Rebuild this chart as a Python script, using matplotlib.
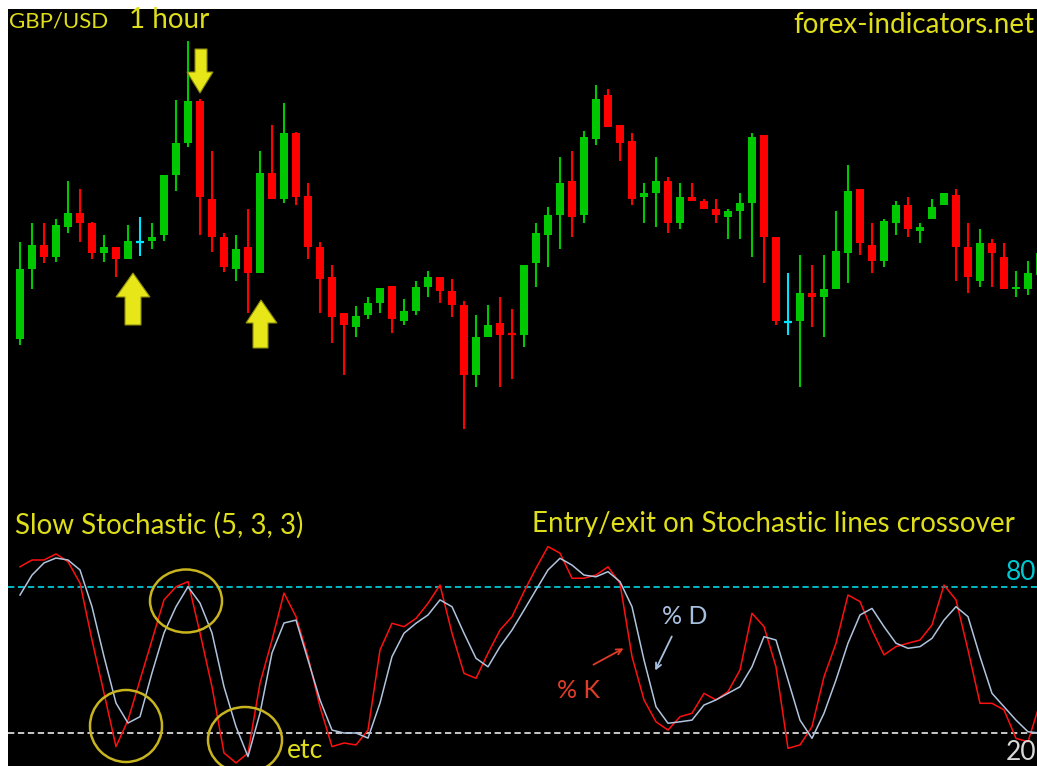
import matplotlib
matplotlib.use('Agg')
import matplotlib.pyplot as plt
from matplotlib.patches import Ellipse, Polygon
import numpy as np

# GBP/USD 1 hour candles (open, high, low, close)
opens = [1.5111, 1.5181, 1.5205, 1.5193, 1.5223, 1.5237, 1.5227, 1.5197, 1.5203, 1.5191,
         1.5208, 1.5209, 1.5215, 1.5275, 1.5307, 1.5349, 1.5251, 1.5213, 1.5181, 1.5203,
         1.5177, 1.5277, 1.5251, 1.5317, 1.5254, 1.5203, 1.5173, 1.5137, 1.5123, 1.5135,
         1.5147, 1.5164, 1.5129, 1.5139, 1.5163, 1.5173, 1.5159, 1.5145, 1.5075, 1.5113,
         1.5127, 1.5116, 1.5115, 1.5187, 1.5215, 1.5235, 1.5269, 1.5235, 1.5311, 1.5355,
         1.5325, 1.5309, 1.5253, 1.5257, 1.5269, 1.5227, 1.5253, 1.5249, 1.5241, 1.5233,
         1.5239, 1.5247, 1.5315, 1.5213, 1.5128, 1.5129, 1.5157, 1.5153, 1.5161, 1.5197,
         1.5261, 1.5205, 1.5189, 1.5227, 1.5245, 1.5219, 1.5231, 1.5245, 1.5255, 1.5203,
         1.5169, 1.5207, 1.5193, 1.5161, 1.5161, 1.5175]
highs = [1.5208, 1.5227, 1.5227, 1.5231, 1.5269, 1.5261, 1.5228, 1.5215, 1.5203, 1.5225,
         1.5233, 1.5227, 1.5275, 1.5350, 1.5409, 1.5351, 1.5299, 1.5217, 1.5215, 1.5241,
         1.5299, 1.5325, 1.5347, 1.5318, 1.5267, 1.5208, 1.5185, 1.5137, 1.5144, 1.5153,
         1.5162, 1.5164, 1.5151, 1.5169, 1.5179, 1.5173, 1.5171, 1.5149, 1.5135, 1.5145,
         1.5153, 1.5141, 1.5185, 1.5227, 1.5243, 1.5293, 1.5299, 1.5319, 1.5365, 1.5361,
         1.5325, 1.5317, 1.5267, 1.5293, 1.5273, 1.5267, 1.5267, 1.5251, 1.5251, 1.5241,
         1.5257, 1.5317, 1.5315, 1.5213, 1.5177, 1.5195, 1.5185, 1.5195, 1.5239, 1.5285,
         1.5261, 1.5227, 1.5231, 1.5249, 1.5253, 1.5227, 1.5251, 1.5257, 1.5261, 1.5227,
         1.5221, 1.5211, 1.5207, 1.5179, 1.5189, 1.5205]
lows = [1.5105, 1.5161, 1.5187, 1.5188, 1.5217, 1.5208, 1.5191, 1.5188, 1.5173, 1.5191,
        1.5194, 1.5201, 1.5209, 1.5259, 1.5303, 1.5215, 1.5198, 1.5178, 1.5169, 1.5137,
        1.5177, 1.5251, 1.5247, 1.5245, 1.5191, 1.5137, 1.5107, 1.5075, 1.5113, 1.5131,
        1.5137, 1.5117, 1.5125, 1.5135, 1.5153, 1.5147, 1.5133, 1.5021, 1.5063, 1.5113,
        1.5063, 1.5071, 1.5103, 1.5163, 1.5183, 1.5201, 1.5213, 1.5227, 1.5305, 1.5323,
        1.5289, 1.5245, 1.5227, 1.5223, 1.5217, 1.5221, 1.5249, 1.5241, 1.5227, 1.5211,
        1.5211, 1.5193, 1.5167, 1.5125, 1.5115, 1.5063, 1.5123, 1.5113, 1.5161, 1.5167,
        1.5195, 1.5177, 1.5183, 1.5215, 1.5213, 1.5207, 1.5231, 1.5245, 1.5169, 1.5157,
        1.5163, 1.5163, 1.5161, 1.5153, 1.5155, 1.5169]
closes = [1.5181, 1.5205, 1.5193, 1.5225, 1.5237, 1.5227, 1.5197, 1.5203, 1.5191, 1.5209,
          1.5208, 1.5213, 1.5275, 1.5307, 1.5349, 1.5253, 1.5213, 1.5183, 1.5201, 1.5177,
          1.5277, 1.5251, 1.5317, 1.5253, 1.5203, 1.5171, 1.5133, 1.5125, 1.5134, 1.5147,
          1.5162, 1.5131, 1.5139, 1.5163, 1.5173, 1.5159, 1.5145, 1.5075, 1.5113, 1.5125,
          1.5115, 1.5115, 1.5185, 1.5217, 1.5235, 1.5267, 1.5233, 1.5313, 1.5351, 1.5323,
          1.5307, 1.5251, 1.5257, 1.5269, 1.5227, 1.5253, 1.5249, 1.5241, 1.5235, 1.5239,
          1.5247, 1.5313, 1.5213, 1.5129, 1.5128, 1.5157, 1.5153, 1.5161, 1.5199, 1.5259,
          1.5207, 1.5189, 1.5229, 1.5245, 1.5221, 1.5223, 1.5243, 1.5257, 1.5203, 1.5173,
          1.5207, 1.5197, 1.5161, 1.5163, 1.5177, 1.5197]

# Slow Stochastic (5, 3, 3)
pct_k = [88.3, 91.1, 91.1, 93.6, 90.4, 81.6, 58.2, 36.4, 14.4, 25.3,
         41.8, 58.2, 74.7, 80.1, 82.2, 61.1, 39.0, 11.8, 7.7, 11.8,
         40.5, 58.2, 77.5, 67.8, 51.4, 30.8, 14.4, 15.9, 15.1, 21.2,
         54.1, 65.1, 63.7, 67.1, 73.3, 80.8, 61.0, 44.5, 42.5, 52.8,
         62.3, 67.8, 78.1, 87.7, 96.6, 93.9, 83.6, 83.6, 84.9, 88.3,
         81.5, 51.4, 33.6, 24.6, 21.2, 26.7, 28.1, 36.3, 33.6, 37.0,
         45.9, 69.2, 63.7, 47.2, 13.7, 15.1, 22.6, 43.1, 56.9, 76.7,
         74.0, 62.3, 52.1, 55.5, 56.9, 58.2, 64.4, 80.8, 74.7, 54.1,
         32.2, 32.2, 29.5, 17.8, 16.4, 32.3]
pct_d = [76.7, 84.9, 89.9, 91.9, 91.1, 87.0, 71.9, 51.4, 32.3, 24.1,
         26.7, 44.7, 61.1, 71.9, 80.1, 73.4, 61.1, 39.0, 22.6, 10.3,
         28.2, 52.9, 65.2, 66.4, 50.0, 33.6, 21.2, 20.0, 20.0, 17.9,
         32.3, 51.4, 61.0, 65.1, 68.5, 74.7, 71.9, 61.0, 50.7, 47.2,
         55.5, 62.3, 70.5, 78.8, 87.0, 91.8, 89.0, 84.9, 84.2, 86.3,
         82.2, 71.9, 50.0, 30.8, 24.0, 24.6, 25.3, 31.5, 33.6, 36.3,
         39.0, 47.2, 59.6, 58.2, 41.8, 25.3, 17.8, 28.1, 41.8, 56.9,
         68.5, 71.2, 63.7, 56.9, 54.8, 55.5, 58.9, 66.4, 71.9, 67.8,
         51.4, 36.3, 30.8, 25.3, 20.5, 20.0]

GREEN = '#00c800'
RED = '#ff0000'
DOJI = '#00e5ff'
YELLOW = '#dede1a'

W, H = 1037, 766
fig = plt.figure(figsize=(W / 100, H / 100), dpi=100, facecolor='white')


def blank(a):
    a.set_facecolor('black')
    for s in a.spines.values():
        s.set_visible(False)
    a.set_xticks([])
    a.set_yticks([])


# price panel
ax = fig.add_axes([8 / W, (H - 500) / H, (W - 8) / W, (500 - 9) / H])
blank(ax)
x = np.arange(len(opens))
cols = []
for o, c in zip(opens, closes):
    if abs(o - c) < 1e-9:
        cols.append(DOJI)
    elif c > o:
        cols.append(GREEN)
    else:
        cols.append(RED)
ax.vlines(x, lows, highs, colors=cols, linewidth=1.5)
body_lo = np.minimum(opens, closes)
body_h = np.abs(np.array(closes) - np.array(opens))
ax.bar(x, body_h, bottom=body_lo, width=0.68, color=cols, linewidth=0)
for i in range(len(opens)):
    if body_h[i] < 0.00015:
        ax.hlines(opens[i], i - 0.34, i + 0.34, colors=cols[i], linewidth=1.6)
ax.set_xlim(-1, (W - 20) / 12)
ax.set_ylim(1.4950, 1.5441)

# stochastic panel
ax2 = fig.add_axes([8 / W, 0, (W - 8) / W, 266 / H])
blank(ax2)
ax2.axhline(80, color='#00c8d2', linewidth=1.3, dashes=(3.5, 2))
ax2.axhline(20, color='#d8d8d8', linewidth=1.3, dashes=(3.5, 2))
ax2.plot(x, pct_k, color='#ff1010', linewidth=1.1)
ax2.plot(x, pct_d, color='#b0c4de', linewidth=1.1)
ax2.set_xlim(-1, (W - 20) / 12)
ax2.set_ylim(6.44, 115.75)

# annotation layer in pixel coordinates
ov = fig.add_axes([0, 0, 1, 1], zorder=10)
ov.set_xlim(0, W)
ov.set_ylim(H, 0)
ov.axis('off')
ov.patch.set_alpha(0)

font = 'Lato'
ov.text(9, 21, 'GBP/USD', color=YELLOW, fontsize=16, family=font, va='center', ha='left')
ov.text(129, 20, '1 hour', color=YELLOW, fontsize=20, family=font, va='center', ha='left')
ov.text(1034, 25, 'forex-indicators.net', color=YELLOW, fontsize=20, family=font, va='center', ha='right')
ov.text(15, 525, 'Slow Stochastic (5, 3, 3)', color=YELLOW, fontsize=20, family=font, va='center', ha='left')
ov.text(532, 524, 'Entry/exit on Stochastic lines crossover', color=YELLOW, fontsize=20,
        family=font, va='center', ha='left')
ov.text(1036, 573, '80', color='#00c8d2', fontsize=19, family=font, va='center', ha='right')
ov.text(1036, 753, '20', color='#d8d8d8', fontsize=19, family=font, va='center', ha='right')
ov.text(287, 750, 'etc', color=YELLOW, fontsize=19, family=font, va='center', ha='left')
ov.text(662, 617, '% D', color='#a8c0e0', fontsize=18, family=font, va='center', ha='left')
ov.text(557, 690, '% K', color='#e03c28', fontsize=18, family=font, va='center', ha='left')
ov.annotate('', xy=(626, 647), xytext=(591, 666),
            arrowprops=dict(arrowstyle='->', color='#e03c28', lw=1.3))
ov.annotate('', xy=(654, 673), xytext=(673, 634),
            arrowprops=dict(arrowstyle='->', color='#a8c0e0', lw=1.3))

# yellow signal arrows
up1 = [(133, 273), (150, 297), (141, 297), (141, 325), (125, 325), (125, 297), (116, 297)]
up2 = [(261, 300), (277, 323), (268, 323), (268, 348), (253, 348), (253, 323), (246, 323)]
dn = [(195, 49), (207, 49), (207, 72), (213, 72), (200, 93), (187, 72), (195, 72)]
for pts in (up1, up2, dn):
    ov.add_patch(Polygon(pts, closed=True, facecolor='#e6e619', edgecolor='#8a8a10', linewidth=0.8))

# circles around crossovers
for (cx, cy, ew, eh) in [(186, 601, 72, 63), (126, 726, 72, 72), (245, 740, 74, 66)]:
    ov.add_patch(Ellipse((cx, cy), ew, eh, fill=False, edgecolor='#c8b41e', linewidth=1.8))

fig.savefig('out.png', dpi=100, facecolor='white')
